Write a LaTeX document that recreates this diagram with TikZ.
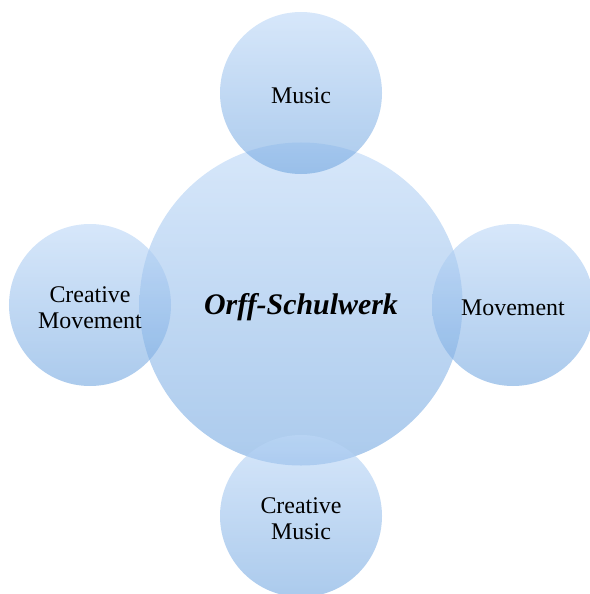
\documentclass[tikz,border=0pt]{standalone}
\usepackage{fontspec}
\setmainfont{Liberation Serif}
\begin{document}
\begin{tikzpicture}[x=1bp,y=-1bp,
  bubble/.style={circle, draw=none, inner sep=0pt,
    top color=lighttop, bottom color=darkbottom,
    fill opacity=0.6},
  small/.style={bubble, minimum size=162bp},
  big/.style={bubble, minimum size=323bp},
  label text/.style={align=center, font=\fontsize{24}{26}\selectfont}]
  \definecolor{lighttop}{RGB}{188,215,247}
  \definecolor{darkbottom}{RGB}{115,167,224}
  \useasboundingbox (0,0) rectangle (590,594);
  % central theme
  \node[big] (core) at (301,304) {};
  \node[font=\fontsize{30}{32}\selectfont\bfseries\itshape] (coretext) at (301,307) {Orff-Schulwerk};
  % surrounding elements
  \node[small] (music) at (301,93) {};
  \node[small] (move) at (513,305) {};
  \node[small] (cmove) at (90,305) {};
  \node[small] (cmusic) at (301,516) {};
  % labels of the surrounding elements
  \node[label text] (musictext) at ([yshift=-3bp]music) {Music};
  \node[label text] (movetext) at ([yshift=-3bp]move) {Movement};
  \node[label text] (cmovetext) at ([yshift=-3bp]cmove) {Creative\\Movement};
  \node[label text] (cmusictext) at ([yshift=-3bp]cmusic) {Creative\\Music};
\end{tikzpicture}
\end{document}
